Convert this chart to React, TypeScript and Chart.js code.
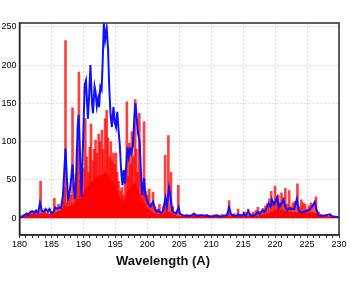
import React, { useEffect, useRef } from 'react';
import { Chart, registerables } from 'chart.js';

Chart.register(...registerables);

// Smoothed spectrum (blue line)
const blueWl = [
  180.0, 180.4, 180.8, 181.1, 181.4, 181.7, 182.0, 182.3, 182.6, 182.9, 183.2, 183.5, 183.8, 184.1, 184.4, 184.7,
  185.0, 185.3, 185.6, 185.9, 186.2, 186.5, 186.8, 187.0, 187.2, 187.4, 187.6, 187.8, 188.0, 188.3, 188.5, 188.7,
  188.9, 189.1, 189.25, 189.45, 189.7, 189.95, 190.2, 190.4, 190.7, 190.9, 191.1, 191.35, 191.5, 191.75, 191.9, 192.1,
  192.3, 192.45, 192.65, 192.85, 193.0, 193.2, 193.4, 193.65, 193.85, 194.05, 194.25, 194.45, 194.7, 194.9, 195.1, 195.3,
  195.5, 195.7, 195.9, 196.1, 196.3, 196.5, 196.7, 196.9, 197.1, 197.3, 197.5, 197.75, 198.0, 198.15, 198.35, 198.55,
  198.8, 199.0, 199.2, 199.5, 199.7, 199.9, 200.2, 200.5, 200.9, 201.2, 201.5, 201.8, 202.1, 202.4, 202.7, 202.85,
  203.05, 203.4, 203.6, 203.9, 204.2, 204.5, 204.9, 205.1, 205.5, 206.0, 206.5, 207.0, 207.3, 207.6, 208.0, 208.5,
  209.0, 209.5, 210.0, 210.5, 211.0, 211.5, 212.0, 212.5, 212.8, 213.1, 213.5, 214.0, 214.2, 214.5, 215.0, 215.1,
  215.4, 215.8, 216.1, 216.5, 217.0, 217.3, 217.6, 218.0, 218.3, 218.6, 219.0, 219.3, 219.5, 219.8, 220.0, 220.3,
  220.6, 220.9, 221.3, 221.6, 221.9, 222.2, 222.6, 223.0, 223.4, 223.7, 224.0, 224.4, 224.8, 225.2, 225.6, 226.0,
  226.2, 226.5, 226.8, 227.2, 227.6, 228.0, 228.6, 229.0, 229.5, 230.0,
];
const blueVal = [
  1, 2, 4, 6, 4, 8, 9, 7, 10, 6, 20, 10, 8, 12, 9, 12,
  6, 8, 14, 12, 14, 13, 30, 60, 91, 55, 25, 30, 45, 70, 40, 25,
  60, 120, 135, 90, 28, 100, 174, 180, 130, 160, 200, 150, 137, 172, 165, 146,
  156, 145, 172, 168, 200, 255, 233, 248, 222, 170, 135, 119, 145, 125, 119, 139,
  115, 95, 63, 43, 63, 45, 67, 93, 80, 90, 85, 95, 135, 150, 130, 110,
  100, 60, 30, 52, 30, 25, 18, 15, 21, 12, 8, 10, 7, 8, 20, 26,
  15, 40, 30, 10, 7, 6, 14, 6, 4, 3, 3, 4, 6, 3, 3, 4,
  3, 3, 2, 3, 3, 2, 3, 4, 14, 5, 3, 3, 5, 3, 4, 6,
  3, 9, 4, 3, 5, 8, 5, 10, 8, 12, 19, 15, 24, 18, 20, 27,
  14, 18, 24, 15, 10, 13, 12, 12, 25, 10, 8, 8, 9, 10, 13, 18,
  21, 10, 4, 3, 3, 4, 5, 2, 2, 1,
];

// Individual emission lines (red spikes)
const lineWl = [
  180.3, 180.8, 181.2, 181.6, 182.0, 182.5, 183.0, 183.3, 183.6, 184.0, 184.5, 185.0, 185.45, 185.8, 186.1, 186.5,
  186.8, 187.0, 187.2, 187.5, 187.7, 188.0, 188.3, 188.6, 188.85, 189.0, 189.3, 189.5, 189.8, 190.0, 190.3, 190.5,
  190.8, 191.0, 191.2, 191.5, 191.7, 191.9, 192.1, 192.4, 192.6, 192.9, 193.1, 193.4, 193.65, 193.85, 194.1, 194.3,
  194.5, 194.7, 194.9, 195.1, 195.3, 195.5, 195.8, 196.0, 196.2, 196.5, 196.8, 197.0, 197.2, 197.4, 197.6, 197.8,
  198.1, 198.3, 198.5, 198.75, 199.0, 199.25, 199.5, 199.75, 200.0, 200.3, 200.6, 200.9, 201.2, 201.6, 201.9, 202.2,
  202.5, 202.8, 203.0, 203.3, 203.7, 204.0, 204.4, 204.85, 205.3, 205.7, 206.2, 206.7, 207.1, 207.5, 208.0, 208.4,
  208.9, 209.3, 209.8, 210.3, 210.8, 211.2, 211.7, 212.1, 212.5, 212.8, 213.2, 213.6, 214.2, 214.6, 215.0, 215.3,
  215.8, 216.2, 216.6, 217.0, 217.3, 217.7, 218.1, 218.5, 218.8, 219.1, 219.4, 219.7, 220.0, 220.3, 220.5, 220.8,
  221.0, 221.3, 221.6, 221.9, 222.2, 222.5, 222.8, 223.1, 223.5, 223.8, 224.1, 224.4, 224.7, 225.0, 225.3, 225.6,
  226.0, 226.4, 226.8, 227.2, 227.6, 228.1, 228.6, 229.1, 229.6,
];
const lineVal = [
  3, 5, 6, 8, 10, 9, 6, 48, 8, 12, 10, 8, 26, 10, 18, 15,
  22, 40, 232, 20, 35, 30, 144, 30, 58, 90, 191, 50, 30, 65, 130, 80,
  60, 93, 123, 75, 90, 102, 85, 110, 100, 115, 90, 130, 141, 105, 80, 100,
  75, 85, 70, 85, 60, 48, 35, 40, 30, 60, 152, 55, 98, 70, 113, 80,
  155, 90, 60, 137, 60, 40, 126, 35, 30, 38, 20, 34, 15, 12, 18, 8,
  15, 82, 20, 108, 60, 15, 8, 43, 5, 4, 5, 4, 4, 6, 5, 4,
  4, 5, 3, 4, 5, 4, 5, 4, 6, 23, 5, 6, 12, 5, 6, 8,
  12, 6, 8, 10, 14, 9, 13, 16, 19, 25, 35, 22, 42, 25, 30, 20,
  33, 27, 39, 18, 36, 15, 20, 22, 45, 15, 24, 20, 18, 12, 16, 20,
  18, 28, 8, 5, 4, 5, 5, 3, 2,
];

// Unresolved blend of weak lines (solid red area)
const blendWl = [
  180.0, 181.0, 182.0, 183.0, 184.0, 185.0, 186.0, 186.5, 187.0, 187.5, 188.0, 188.5, 189.0, 189.5, 190.0, 190.5,
  191.0, 191.5, 192.0, 192.5, 193.0, 193.5, 194.0, 194.5, 195.0, 195.5, 196.0, 196.5, 197.0, 197.5, 198.0, 198.5,
  199.0, 199.5, 200.0, 200.5, 201.0, 201.5, 202.0, 202.5, 203.0, 203.5, 204.0, 204.5, 205.0, 206.0, 210.0, 217.0,
  218.0, 219.0, 220.0, 221.0, 222.0, 223.0, 224.0, 225.0, 226.0, 227.0, 228.0, 230.0,
];
const blendVal = [
  2, 3, 5, 4, 6, 4, 8, 10, 15, 14, 16, 18, 24, 24, 32, 40,
  44, 48, 52, 55, 56, 60, 52, 48, 42, 28, 20, 24, 36, 40, 46, 36,
  24, 20, 12, 10, 6, 5, 4, 5, 6, 8, 4, 3, 2, 2, 2, 2,
  4, 6, 10, 10, 8, 7, 7, 6, 7, 3, 2, 1,
];

const X_MIN = 180;
const X_MAX = 230;
const Y_MIN = -22;
const Y_MAX = 255;
const X_LABEL = 'Wavelength (A)';

const framePlugin = {
  id: 'frame',
  afterDraw(chart: any) {
    const { ctx, chartArea } = chart;
    ctx.save();
    ctx.strokeStyle = '#2b2b2b';
    ctx.lineWidth = 1.5;
    ctx.strokeRect(chartArea.left, chartArea.top, chartArea.right - chartArea.left, chartArea.bottom - chartArea.top);
    ctx.fillStyle = '#111';
    ctx.font = 'bold 13px "Liberation Sans", Arial, sans-serif';
    ctx.textAlign = 'center';
    ctx.textBaseline = 'middle';
    ctx.fillText(X_LABEL, 163, 261);
    ctx.restore();
  },
};

export default function App() {
  const ref = useRef<HTMLCanvasElement>(null);
  useEffect(() => {
    document.body.style.margin = '0';
    const blueData = blueWl.map((x, i) => ({ x, y: blueVal[i] }));
    const lineData = lineWl.map((x, i) => ({ x, y: lineVal[i] }));
    const blendData = blendWl.map((x, i) => ({ x, y: blendVal[i] }));
    const chart = new Chart(ref.current as HTMLCanvasElement, {
      type: 'bar',
      data: {
        datasets: [
          {
            type: 'line',
            label: 'smoothed',
            data: blueData,
            borderColor: '#1010ff',
            borderWidth: 2,
            pointRadius: 0,
            tension: 0,
            fill: false,
            order: 0,
          } as any,
          {
            type: 'bar',
            label: 'lines',
            data: lineData,
            backgroundColor: 'rgba(255,0,0,0.75)',
            borderWidth: 0,
            barThickness: 2,
            order: 1,
          } as any,
          {
            type: 'line',
            label: 'blend',
            data: blendData,
            borderColor: '#ff0000',
            borderWidth: 1,
            backgroundColor: '#ff0000',
            pointRadius: 0,
            tension: 0,
            fill: 'origin',
            order: 2,
          } as any,
        ],
      },
      options: {
        animation: false,
        responsive: false,
        devicePixelRatio: 1,
        events: [],
        layout: { padding: { top: 23, right: 10, left: 0, bottom: 0 } },
        plugins: { legend: { display: false }, tooltip: { enabled: false } },
        font: { family: '"Liberation Sans", Arial, sans-serif' },
        scales: {
          x: {
            type: 'linear',
            min: X_MIN,
            max: X_MAX,
            offset: false,
            afterFit: (s: any) => { s.height = 46; },
            grid: {
              offset: false,
              color: (c: any) => (c.tick && c.tick.value % 5 === 0 ? '#d6d6d6' : 'rgba(0,0,0,0)'),
              tickColor: '#333',
              tickLength: 3,
              lineWidth: 1,
            },
            border: { display: true, color: '#2b2b2b', width: 1.5, dash: [2, 2] },
            ticks: {
              stepSize: 1,
              autoSkip: false,
              maxRotation: 0,
              includeBounds: false,
              padding: 1,
              color: '#000',
              font: { size: 9, family: '"Liberation Sans", Arial, sans-serif' },
              callback: (v: any) => (Number(v) % 5 === 0 ? String(v) : ''),
            },
          },
          y: {
            type: 'linear',
            min: Y_MIN,
            max: Y_MAX,
            afterFit: (s: any) => { s.width = 19.5; },
            grid: { color: '#d6d6d6', drawTicks: false, lineWidth: 1 },
            border: { display: true, color: '#2b2b2b', width: 1.5, dash: [2, 2] },
            ticks: {
              stepSize: 50,
              includeBounds: false,
              padding: 3,
              color: '#000',
              font: { size: 9, family: '"Liberation Sans", Arial, sans-serif' },
            },
          },
        },
      } as any,
      plugins: [framePlugin],
    });
    return () => chart.destroy();
  }, []);
  return (
    <div style={{ width: 349, height: 281 }}>
      <canvas ref={ref} width={349} height={281} style={{ display: 'block' }} />
    </div>
  );
}
